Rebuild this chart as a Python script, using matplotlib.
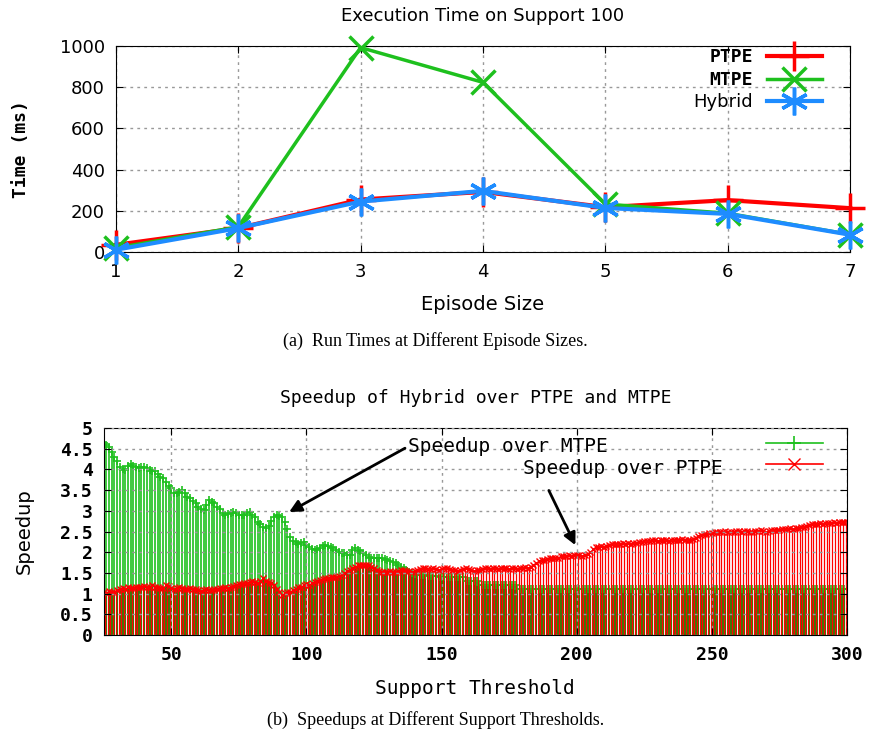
import numpy as np
import matplotlib.pyplot as plt
from matplotlib.lines import Line2D

# top chart: execution time (ms) vs episode size
episode = [1, 2, 3, 4, 5, 6, 7]
ptpe_time = [35, 116, 255, 292, 218, 252, 213]
mtpe_time = [20, 122, 993, 824, 233, 188, 85]
hybrid_time = [11, 116, 245, 297, 214, 185, 84]

# bottom chart: speedup vs support threshold (one value per support 25..300)
support = np.arange(25, 301)
speedup_mtpe = [
    4.63, 4.60, 4.55, 4.42, 4.31, 4.20, 4.07, 4.00, 3.99, 4.08,
    4.12, 4.08, 4.05, 4.03, 4.05, 4.07, 4.03, 3.99, 3.97, 3.95,
    3.88, 3.82, 3.80, 3.70, 3.60, 3.55, 3.42, 3.44, 3.46, 3.50,
    3.42, 3.33, 3.30, 3.24, 3.20, 3.10, 3.05, 3.02, 3.15, 3.26,
    3.22, 3.18, 3.10, 3.04, 2.95, 2.90, 2.92, 2.95, 2.98, 2.94,
    2.90, 2.90, 2.90, 2.95, 2.98, 2.90, 2.84, 2.74, 2.68, 2.60,
    2.58, 2.64, 2.75, 2.86, 2.90, 2.88, 2.84, 2.74, 2.55, 2.37,
    2.28, 2.24, 2.21, 2.23, 2.25, 2.18, 2.13, 2.08, 2.05, 2.07,
    2.09, 2.15, 2.17, 2.14, 2.12, 2.09, 2.05, 2.01, 1.99, 1.97,
    1.94, 1.93, 2.05, 2.09, 2.05, 2.02, 1.97, 1.93, 1.89, 1.87,
    1.85, 1.85, 1.85, 1.85, 1.84, 1.81, 1.79, 1.77, 1.73, 1.69,
    1.65, 1.61, 1.56, 1.53, 1.50, 1.47, 1.45, 1.45, 1.44, 1.44,
    1.43, 1.43, 1.42, 1.42, 1.41, 1.41, 1.40, 1.40, 1.40, 1.40,
    1.40, 1.40, 1.40, 1.40, 1.30, 1.30, 1.30, 1.30, 1.30, 1.21,
    1.21, 1.21, 1.21, 1.21, 1.21, 1.21, 1.21, 1.21, 1.21, 1.21,
    1.21, 1.21, 1.21, 1.10, 1.10, 1.10, 1.10, 1.10, 1.10, 1.10,
    1.10, 1.10, 1.10, 1.10, 1.10, 1.10, 1.10, 1.10, 1.10, 1.10,
    1.10, 1.10, 1.10, 1.10, 1.10, 1.10, 1.10, 1.10, 1.10, 1.10,
    1.10, 1.10, 1.10, 1.10, 1.10, 1.10, 1.10, 1.10, 1.10, 1.10,
    1.10, 1.10, 1.10, 1.10, 1.10, 1.10, 1.10, 1.10, 1.10, 1.10,
    1.10, 1.10, 1.10, 1.10, 1.10, 1.10, 1.10, 1.10, 1.10, 1.10,
    1.10, 1.10, 1.10, 1.10, 1.10, 1.10, 1.10, 1.10, 1.10, 1.10,
    1.10, 1.10, 1.10, 1.10, 1.10, 1.10, 1.10, 1.10, 1.10, 1.10,
    1.10, 1.10, 1.10, 1.10, 1.10, 1.10, 1.10, 1.10, 1.10, 1.10,
    1.10, 1.10, 1.10, 1.10, 1.10, 1.10, 1.10, 1.10, 1.10, 1.10,
    1.10, 1.10, 1.10, 1.10, 1.10, 1.10, 1.10, 1.10, 1.10, 1.10,
    1.10, 1.10, 1.10, 1.10, 1.10, 1.10, 1.10, 1.10, 1.10, 1.10,
    1.10, 1.10, 1.10, 1.10, 1.10, 1.10,
]
speedup_ptpe = [
    1.05, 1.02, 1.06, 1.04, 1.05, 1.08, 1.10, 1.13, 1.12, 1.15,
    1.13, 1.14, 1.16, 1.15, 1.17, 1.18, 1.16, 1.17, 1.20, 1.17,
    1.15, 1.14, 1.13, 1.20, 1.18, 1.13, 1.12, 1.13, 1.15, 1.13,
    1.10, 1.12, 1.13, 1.11, 1.10, 1.08, 1.07, 1.08, 1.10, 1.08,
    1.09, 1.10, 1.12, 1.13, 1.13, 1.15, 1.14, 1.16, 1.18, 1.20,
    1.22, 1.24, 1.25, 1.26, 1.28, 1.30, 1.27, 1.25, 1.30, 1.37,
    1.30, 1.28, 1.25, 1.20, 1.10, 1.05, 0.97, 1.02, 1.05, 1.03,
    1.08, 1.10, 1.15, 1.17, 1.20, 1.22, 1.20, 1.25, 1.27, 1.30,
    1.33, 1.35, 1.37, 1.38, 1.40, 1.41, 1.41, 1.42, 1.45, 1.50,
    1.55, 1.58, 1.62, 1.65, 1.68, 1.69, 1.70, 1.69, 1.68, 1.65,
    1.62, 1.58, 1.55, 1.53, 1.52, 1.53, 1.54, 1.53, 1.52, 1.55,
    1.57, 1.56, 1.55, 1.54, 1.53, 1.55, 1.58, 1.60, 1.62, 1.61,
    1.59, 1.60, 1.62, 1.60, 1.58, 1.60, 1.61, 1.63, 1.60, 1.58,
    1.57, 1.55, 1.58, 1.60, 1.62, 1.60, 1.57, 1.55, 1.57, 1.58,
    1.60, 1.61, 1.61, 1.60, 1.62, 1.61, 1.60, 1.61, 1.63, 1.61,
    1.60, 1.61, 1.62, 1.60, 1.61, 1.63, 1.65, 1.62, 1.64, 1.68,
    1.75, 1.78, 1.80, 1.82, 1.84, 1.85, 1.86, 1.85, 1.87, 1.90,
    1.91, 1.92, 1.93, 1.92, 1.93, 1.94, 1.93, 1.92, 1.94, 1.95,
    2.00, 2.08, 2.12, 2.13, 2.14, 2.13, 2.15, 2.18, 2.20, 2.21,
    2.20, 2.21, 2.22, 2.21, 2.22, 2.21, 2.22, 2.23, 2.24, 2.25,
    2.26, 2.27, 2.28, 2.29, 2.29, 2.28, 2.29, 2.30, 2.29, 2.28,
    2.29, 2.30, 2.29, 2.30, 2.31, 2.30, 2.29, 2.30, 2.32, 2.35,
    2.38, 2.42, 2.43, 2.45, 2.46, 2.47, 2.48, 2.50, 2.49, 2.50,
    2.51, 2.50, 2.49, 2.50, 2.52, 2.51, 2.50, 2.51, 2.52, 2.50,
    2.49, 2.51, 2.52, 2.53, 2.51, 2.50, 2.52, 2.53, 2.54, 2.53,
    2.54, 2.55, 2.56, 2.57, 2.58, 2.57, 2.58, 2.59, 2.60, 2.62,
    2.64, 2.66, 2.67, 2.68, 2.69, 2.70, 2.68, 2.70, 2.71, 2.70,
    2.72, 2.71, 2.73, 2.72, 2.74, 2.73,
]

RED = '#ff0000'
GREEN = '#1ec01e'
DARK_GREEN = '#2a7d00'
BLUE = '#1e8cff'
MONO = 'DejaVu Sans Mono'

fig = plt.figure(figsize=(8.71, 7.38), dpi=100)

# ---- (a) execution time ----
ax1 = fig.add_axes([0.133, 0.6585, 0.843, 0.279])
ax1.plot(episode, ptpe_time, color=RED, lw=3, marker='+', ms=22, mew=2.5,
         label='PTPE', clip_on=False, zorder=3)
ax1.plot(episode, mtpe_time, color=GREEN, lw=2.5, marker='x', ms=17, mew=2.5,
         label='MTPE', clip_on=False, zorder=3)
ax1.plot(episode, hybrid_time, color=BLUE, lw=3, marker=(6, 2, 0), ms=20, mew=2.5,
         label='Hybrid', clip_on=False, zorder=4)
ax1.set_xlim(1, 7)
ax1.set_ylim(0, 1000)
ax1.set_xticks(episode)
ax1.set_yticks([0, 200, 400, 600, 800, 1000])
ax1.grid(True, ls=(0, (2, 3)), color='#999999', lw=1)
ax1.tick_params(direction='in', top=True, right=True, labelsize=13, length=5, pad=8)
ax1.set_title('Execution Time on Support 100', fontsize=13, pad=18)
ax1.set_xlabel('Episode Size', fontsize=14, labelpad=10)
ax1.set_ylabel('Time (ms)', fontsize=13, family=MONO, weight='bold', labelpad=21)
leg = ax1.legend(loc='upper right', bbox_to_anchor=(0.971, 1.024), frameon=False,
                 markerfirst=False, fontsize=13, handlelength=3.0, borderaxespad=0,
                 labelspacing=0.25)
for t in leg.get_texts()[:2]:
    t.set_family(MONO)
    t.set_weight('bold')
fig.text(0.5, 0.531, '(a)  Run Times at Different Episode Sizes.', ha='center',
         fontsize=13, family='Liberation Serif')

# ---- (b) speedups ----
ax2 = fig.add_axes([0.119, 0.1396, 0.8535, 0.2804])
overlap = np.minimum(speedup_mtpe, speedup_ptpe)
ax2.vlines(support, 0, overlap, color=DARK_GREEN, lw=1.4)
ax2.vlines(support, overlap, speedup_mtpe, color=GREEN, lw=1.2)
ax2.plot(support, speedup_mtpe, ls='none', marker='+', color=GREEN, ms=6, mew=1.2)
ax2.vlines(support + 0.5, 0, speedup_ptpe, color=RED, lw=0.9)
ax2.plot(support, speedup_ptpe, ls='none', marker='x', color=RED, ms=5, mew=1.0)
ax2.set_xlim(25, 300)
ax2.set_ylim(0, 5)
ax2.set_xticks([50, 100, 150, 200, 250, 300])
ax2.set_yticks(np.arange(0, 5.01, 0.5))
ax2.set_yticklabels(['0', '0.5', '1', '1.5', '2', '2.5', '3', '3.5', '4', '4.5', '5'])
ax2.grid(True, ls=(0, (2, 3)), color='#999999', lw=1)
ax2.set_axisbelow(False)
ax2.tick_params(direction='in', top=True, right=True, labelsize=13, length=5, pad=8)
for lab in ax2.get_xticklabels() + ax2.get_yticklabels():
    lab.set_family(MONO)
    lab.set_weight('bold')
ax2.set_title('Speedup of Hybrid over PTPE and MTPE', fontsize=13, family=MONO, pad=18)
ax2.set_xlabel('Support Threshold', fontsize=14, family=MONO, labelpad=11)
ax2.set_ylabel('Speedup', fontsize=14, labelpad=19)

handles = [Line2D([], [], color=GREEN, marker='+', ms=10, mew=1.2, lw=1.2),
           Line2D([], [], color=RED, marker='x', ms=8, mew=1.0, lw=1.2)]
ax2.legend(handles, ['', ''], loc='upper right', bbox_to_anchor=(0.976, 1.0),
           frameon=False, handlelength=3.4, handletextpad=0, borderaxespad=0,
           labelspacing=0.2, fontsize=12)

ax2.annotate('Speedup over MTPE', xy=(93.6, 2.97), xytext=(137.5, 4.55),
             fontsize=14, family=MONO, va='center', ha='left',
             arrowprops=dict(arrowstyle='-|>', color='black', lw=2, mutation_scale=18,
                             shrinkA=0, shrinkB=0, relpos=(0, 0.5)))
ax2.annotate('Speedup over PTPE', xy=(199.5, 2.17), xytext=(180, 4.03),
             fontsize=14, family=MONO, va='center', ha='left',
             arrowprops=dict(arrowstyle='-|>', color='black', lw=2, mutation_scale=18,
                             shrinkA=8, shrinkB=0, relpos=(0.1, 0)))
fig.text(0.5, 0.018, '(b)  Speedups at Different Support Thresholds.', ha='center',
         fontsize=13, family='Liberation Serif')

fig.savefig('out.png', dpi=100)
